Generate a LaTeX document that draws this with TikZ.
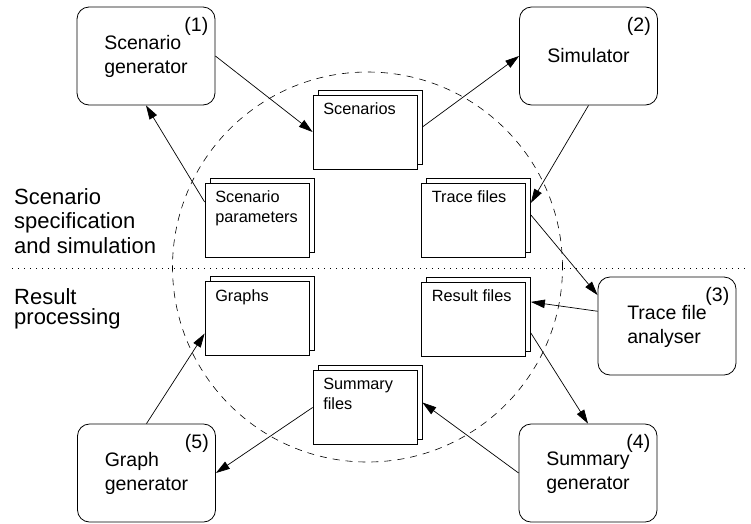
\documentclass[tikz,border=0pt]{standalone}
\usepackage{fontspec}
\setmainfont{Liberation Sans}
\usetikzlibrary{arrows.meta,positioning}
\tikzset{
  proc/.style={draw, line width=0.8pt, rounded corners=12pt, minimum width=138pt,
    minimum height=98pt, align=left, font=\fontsize{19.5}{24}\selectfont},
  num/.style={inner sep=0pt, font=\fontsize{19.5}{24}\selectfont},
  doc/.style={draw, fill=white, line width=0.8pt, inner sep=0pt,
    minimum width=104pt, minimum height=74pt},
  doclabel/.style={anchor=north west, inner sep=0pt, align=left,
    font=\fontsize{16.3}{20}\selectfont},
  side/.style={anchor=north west, inner sep=0pt, align=left,
    font=\fontsize{22}{24.5}\selectfont},
  arr/.style={line width=0.7pt, -{Triangle[length=14pt,width=8.5pt]}}
}
\begin{document}
\begin{tikzpicture}[x=1pt,y=-1pt]
\useasboundingbox (0,0) rectangle (751,523);

% section split and ring
\coordinate (dl) at (12,268);
\coordinate (dr) at (748,268);
\draw[line width=0.7pt, dash pattern=on 1pt off 5pt] (dl) -- (dr);
\node[circle, draw, line width=0.6pt, dash pattern=on 7pt off 6pt, minimum size=390pt] (ring) at (367.5,267) {};

\node[side] (spec) at (14,188) {Scenario\\specification\\and simulation};
\node[side] (res) at (14,288) {Result\\[-4pt]processing};

% tools
\node[proc] (sg) at (146,56) {Scenario\\generator};
\node[proc] (sim) at (588.5,56) {Simulator};
\node[proc] (ta) at (667,326) {Trace file\\analyser};
\node[proc] (sug) at (588,473) {Summary\\generator};
\node[proc] (gg) at (146.5,473) {Graph\\generator};
\node[num] (n1) at ([shift={(-19,20)}]sg.north east) {(1)};
\node[num] (n2) at ([shift={(-19,20)}]sim.north east) {(2)};
\node[num] (n3) at ([shift={(-19,20)}]ta.north east) {(3)};
\node[num] (n4) at ([shift={(-19,20)}]sug.north east) {(4)};
\node[num] (n5) at ([shift={(-19,20)}]gg.north east) {(5)};

% files
\node[doc] (scen2) at (370,127) {};
\node[doc] (scen) at ([shift={(-5,5)}]scen2.center) {};
\node[doc] (par2) at (262,215) {};
\node[doc] (par) at ([shift={(-5,5)}]par2.center) {};
\node[doc] (tf2) at (478.5,215) {};
\node[doc] (tf) at ([shift={(-5,5)}]tf2.center) {};
\node[doc] (gr2) at (262,313.5) {};
\node[doc] (gr) at ([shift={(-5,5)}]gr2.center) {};
\node[doc] (rf2) at (478.5,314) {};
\node[doc] (rf) at ([shift={(-5,5)}]rf2.center) {};
\node[doc] (sf2) at (370,402.5) {};
\node[doc] (sf) at ([shift={(-5,5)}]sf2.center) {};

\node[doclabel] (scen-t) at ([shift={(10.5,8)}]scen.north west) {Scenarios};
\node[doclabel] (par-t) at ([shift={(10.5,8)}]par.north west) {Scenario\\parameters};
\node[doclabel] (tf-t) at ([shift={(10.5,8)}]tf.north west) {Trace files};
\node[doclabel] (gr-t) at ([shift={(10.5,8)}]gr.north west) {Graphs};
\node[doclabel] (rf-t) at ([shift={(10.5,8)}]rf.north west) {Result files};
\node[doclabel] (sf-t) at ([shift={(10.5,8)}]sf.north west) {Summary\\files};

% data flow
\draw[arr] (sg.east) -- (scen.west);
\draw[arr] (scen2.east) -- (sim.west);
\draw[arr] (sim.south) -- (tf2.13);
\draw[arr] (tf2.east) -- (ta.156);
\draw[arr] (ta.168) -- (rf2.13);
\draw[arr] (rf2.-20) -- (sug.north);
\draw[arr] (sug.west) -- (sf2.east);
\draw[arr] (sf.west) -- (gg.east);
\draw[arr] (gg.north) -- (gr.196);
\draw[arr] (par.161) -- (sg.south);
\end{tikzpicture}
\end{document}
